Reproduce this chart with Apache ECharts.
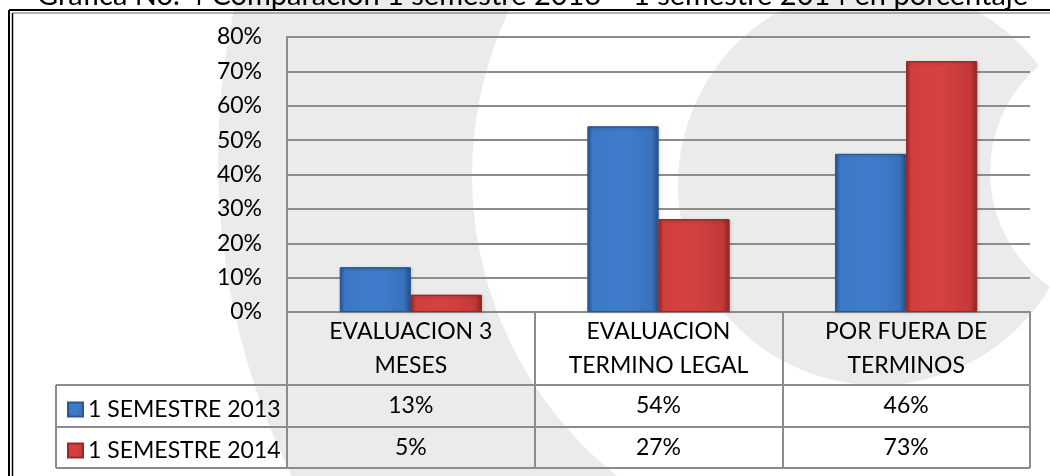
<!DOCTYPE html>
<html>
<head>
<meta charset="utf-8">
<style>
  html, body { margin: 0; padding: 0; background: #fff; }
  #chart { width: 1050px; height: 476px; }
</style>
<script src="https://cdn.jsdelivr.net/npm/echarts@6/dist/echarts.min.js"></script>
</head>
<body>
<div id="chart"></div>
<script>
// datos de la grafica
const titleText = 'Grafica No. 4 Comparacion 1 semestre 2013 – 1 semestre 2014 en porcentaje';
const categories = ['EVALUACION 3\nMESES', 'EVALUACION\nTERMINO LEGAL', 'POR FUERA DE\nTERMINOS'];
const seriesNames = ['1 SEMESTRE 2013', '1 SEMESTRE 2014'];
const sem2013 = [13, 54, 46];
const sem2014 = [5, 27, 73];
const yMax = 80;
const yStep = 10;

const FONT = 'Lato';
const FS = 23;
const GRID_COLOR = '#8c8c8c';
const WM = '#ebebeb';

const chart = echarts.init(document.getElementById('chart'));

const barFill = (stops) => ({
  type: 'linear', x: 0, y: 0, x2: 1, y2: 0,
  colorStops: stops.map(([offset, color]) => ({ offset, color }))
});

const blueFill = barFill([[0, '#2c5d9c'], [0.07, '#3b78c6'], [0.5, '#3f7dcc'], [0.9, '#3973bd'], [1, '#274f87']]);
const redFill = barFill([[0, '#a32e2e'], [0.07, '#d13e3d'], [0.5, '#d44241'], [0.9, '#c43938'], [1, '#8e2626']]);

const option = {
  animation: false,
  backgroundColor: '#fff',
  textStyle: { fontFamily: FONT },
  graphic: [
    // marca de agua de fondo
    { id: 'wm1', type: 'circle', z: -10, shape: { cx: 930, cy: 160, r: 712 }, style: { fill: WM } },
    { id: 'wm2', type: 'circle', z: -9, shape: { cx: 857, cy: 175, r: 385 }, style: { fill: '#fff' } },
    { id: 'wm3', type: 'circle', z: -8, shape: { cx: 878, cy: 185, r: 200 }, style: { fill: WM } },
    { id: 'wm4', type: 'circle', z: -7, shape: { cx: 1130, cy: 172, r: 140 }, style: { fill: '#fff' } },
    // marco
    { id: 'f1', type: 'line', z: 5, shape: { x1: 9, y1: 10, x2: 1050, y2: 10 }, style: { stroke: '#000', lineWidth: 2 } },
    { id: 'f2', type: 'line', z: 5, shape: { x1: 9, y1: 10, x2: 9, y2: 476 }, style: { stroke: '#000', lineWidth: 2 } },
    { id: 'f3', type: 'line', z: 5, shape: { x1: 12.5, y1: 13, x2: 1050, y2: 13 }, style: { stroke: '#666', lineWidth: 1 } },
    { id: 'f4', type: 'line', z: 5, shape: { x1: 12.5, y1: 13, x2: 12.5, y2: 476 }, style: { stroke: '#000', lineWidth: 1.5 } },
    {
      id: 'title', type: 'text', z: 5,
      style: { text: titleText, x: 37, y: 10, font: '29px ' + FONT, fill: '#000', verticalAlign: 'bottom' }
    }
  ],
  legend: {
    data: seriesNames,
    orient: 'vertical',
    left: 62,
    top: 393,
    icon: 'rect',
    itemWidth: 15,
    itemHeight: 14,
    itemGap: 18,
    textStyle: { fontSize: FS, color: '#000', fontFamily: FONT }
  },
  grid: { left: 287, right: 20, top: 37, bottom: 164 },
  xAxis: {
    type: 'category',
    data: categories,
    axisLine: { lineStyle: { color: GRID_COLOR, width: 2 } },
    axisTick: { show: true, interval: 0, length: 156, lineStyle: { color: GRID_COLOR, width: 2 } },
    axisLabel: { interval: 0, fontSize: FS, color: '#000', lineHeight: 34, margin: 3, fontFamily: FONT }
  },
  yAxis: {
    type: 'value',
    min: 0,
    max: yMax,
    interval: yStep,
    axisLine: { show: true, lineStyle: { color: GRID_COLOR, width: 2 } },
    axisTick: { show: false },
    axisLabel: { formatter: '{value}%', fontSize: FS, color: '#000', margin: 25, fontFamily: FONT },
    splitLine: { lineStyle: { color: GRID_COLOR, width: 2 } }
  },
  series: [
    {
      name: seriesNames[0], type: 'bar', data: sem2013, barWidth: 71, barGap: '0%',
      itemStyle: { color: blueFill, borderColor: '#2a5894', borderWidth: 1, shadowBlur: 3, shadowColor: 'rgba(0,0,0,0.25)', shadowOffsetX: 1, shadowOffsetY: 1 }
    },
    {
      name: seriesNames[1], type: 'bar', data: sem2014, barWidth: 71, barGap: '0%',
      itemStyle: { color: redFill, borderColor: '#962a2a', borderWidth: 1, shadowBlur: 3, shadowColor: 'rgba(0,0,0,0.25)', shadowOffsetX: 1, shadowOffsetY: 1 }
    }
  ]
};

chart.setOption(option);

// tabla de datos debajo del eje
function drawTable() {
  const c0 = chart.convertToPixel({ xAxisIndex: 0 }, 0);
  const c1 = chart.convertToPixel({ xAxisIndex: 0 }, 1);
  const band = c1 - c0;
  const right = c0 + band * (categories.length - 0.5);
  const base = chart.convertToPixel({ yAxisIndex: 0 }, 0);
  const legendLeft = 56;
  const rowLines = [base + 73, base + 115, base + 156];
  const lineStyle = { stroke: GRID_COLOR, lineWidth: 2 };

  const els = rowLines.map((y, i) => ({
    id: 'row' + i, type: 'line', z: 3,
    shape: { x1: legendLeft, y1: y, x2: right, y2: y }, style: lineStyle
  }));
  els.push({
    id: 'colL', type: 'line', z: 3,
    shape: { x1: legendLeft, y1: rowLines[0], x2: legendLeft, y2: rowLines[2] }, style: lineStyle
  });

  [sem2013, sem2014].forEach((vals, r) => {
    const yMid = (rowLines[r] + rowLines[r + 1]) / 2;
    vals.forEach((v, i) => {
      els.push({
        id: 'cell' + r + '_' + i, type: 'text', z: 4,
        style: {
          text: v + '%', x: chart.convertToPixel({ xAxisIndex: 0 }, i), y: yMid,
          font: FS + 'px ' + FONT, fill: '#000', align: 'center', verticalAlign: 'middle'
        }
      });
    });
  });

  chart.setOption({ graphic: els });
}

drawTable();
</script>
</body>
</html>
